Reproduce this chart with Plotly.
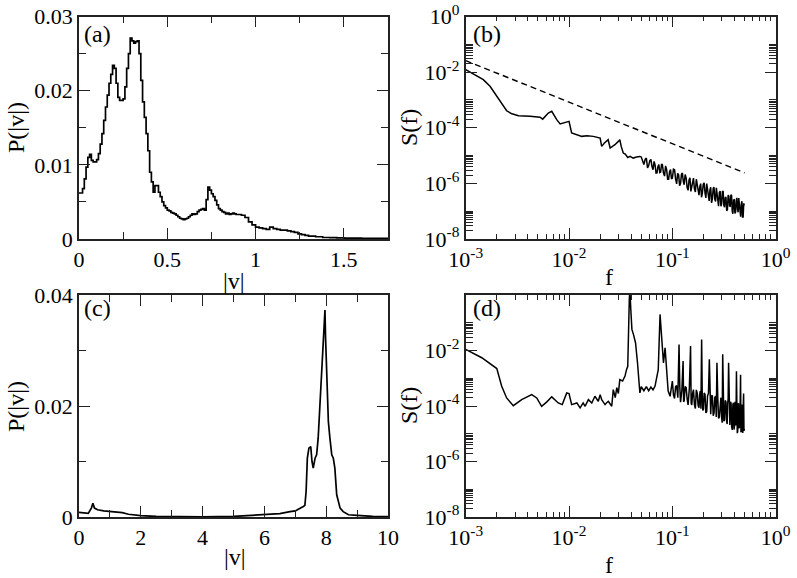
import numpy as np
import plotly.graph_objects as go

# ---------------- data ----------------
# (a) speed distribution, low-amplitude case
v_a = [0.00, 0.01, 0.02, 0.03, 0.04, 0.05, 0.06, 0.07, 0.08, 0.09,
       0.10, 0.11, 0.12, 0.13, 0.14, 0.15, 0.16, 0.17, 0.18, 0.19,
       0.20, 0.21, 0.22, 0.23, 0.24, 0.25, 0.26, 0.27, 0.28, 0.29,
       0.30, 0.31, 0.32, 0.33, 0.34, 0.35, 0.36, 0.37, 0.38, 0.39,
       0.40, 0.41, 0.42, 0.43, 0.44, 0.45, 0.46, 0.47, 0.48, 0.49,
       0.50, 0.51, 0.52, 0.53, 0.54, 0.55, 0.56, 0.57, 0.58, 0.59,
       0.60, 0.61, 0.62, 0.63, 0.64, 0.65, 0.66, 0.67, 0.68, 0.69,
       0.70, 0.71, 0.72, 0.73, 0.74, 0.75, 0.76, 0.77, 0.78, 0.79,
       0.80, 0.81, 0.82, 0.83, 0.84, 0.85, 0.86, 0.87, 0.88, 0.89,
       0.90, 0.92, 0.94, 0.96, 0.98, 1.00, 1.02, 1.04, 1.06, 1.08,
       1.10, 1.12, 1.14, 1.16, 1.18, 1.20, 1.22, 1.24, 1.26, 1.28,
       1.30, 1.34, 1.38, 1.42, 1.46, 1.50, 1.55, 1.60, 1.65, 1.70, 1.75]
p_a = [0.0062, 0.0062, 0.0068, 0.0081, 0.0097, 0.0110, 0.0114, 0.0106, 0.0104, 0.0104,
       0.0107, 0.0115, 0.0128, 0.0142, 0.0160, 0.0178, 0.0194, 0.0210, 0.0222, 0.0234,
       0.0230, 0.0210, 0.0191, 0.0187, 0.0187, 0.0189, 0.0205, 0.0230, 0.0250, 0.0271,
       0.0267, 0.0264, 0.0266, 0.0267, 0.0250, 0.0214, 0.0185, 0.0164, 0.0142, 0.0119,
       0.0090, 0.0077, 0.0063, 0.0072, 0.0072, 0.0063, 0.0057, 0.0050, 0.0045, 0.0042,
       0.0039, 0.0038, 0.0036, 0.0035, 0.0034, 0.0032, 0.0030, 0.0028, 0.0027, 0.0026,
       0.0027, 0.0028, 0.0030, 0.0032, 0.0034, 0.0033, 0.0034, 0.0037, 0.0039, 0.0040,
       0.0041, 0.0039, 0.0053, 0.0070, 0.0066, 0.0061, 0.0057, 0.0052, 0.0046, 0.0041,
       0.0039, 0.0037, 0.0036, 0.0034, 0.0035, 0.0033, 0.0034, 0.0035, 0.0034, 0.0033,
       0.0033, 0.0032, 0.0029, 0.0023, 0.0019, 0.0016, 0.0015, 0.0014, 0.0013, 0.0016,
       0.0014, 0.0013, 0.0012, 0.0012, 0.0011, 0.0010, 0.0009, 0.0007, 0.0006, 0.0005,
       0.0004, 0.0003, 0.0002, 0.00018, 0.00015, 0.00013, 0.00011, 0.0001, 0.00009, 0.00008, 0.00007]

# (b) power spectrum (log10 of S)
f_b = [1.0e-3, 1.2e-3, 1.48e-3, 1.72e-3, 2.0e-3, 2.31e-3, 2.49e-3, 2.8e-3, 3.24e-3, 4.2e-3,
       5.24e-3, 5.56e-3, 6.3e-3, 6.8e-3, 7.6e-3, 8.2e-3, 9.1e-3, 1.0e-2, 1.06e-2, 1.19e-2,
       1.33e-2, 1.49e-2, 1.72e-2, 2.0e-2, 2.07e-2, 2.2e-2, 2.39e-2, 2.5e-2, 2.78e-2, 3.0e-2,
       3.1e-2, 3.2e-2, 3.35e-2, 3.5e-2, 3.7e-2, 3.9e-2, 4.17e-2, 4.5e-2, 4.85e-2,
       0.050, 0.053, 0.056, 0.059, 0.062, 0.065, 0.068, 0.071, 0.074, 0.077,
       0.080, 0.084, 0.088, 0.092, 0.096, 0.100, 0.105, 0.110, 0.115, 0.120,
       0.125, 0.130, 0.136, 0.142, 0.148, 0.154, 0.160, 0.167, 0.174, 0.181,
       0.188, 0.195, 0.203, 0.211, 0.219, 0.227, 0.235, 0.244, 0.253, 0.262,
       0.271, 0.280, 0.290, 0.300, 0.310, 0.320, 0.330, 0.341, 0.352, 0.363,
       0.374, 0.385, 0.397, 0.409, 0.421, 0.433, 0.445, 0.458, 0.471, 0.484, 0.497]
log_s_b = [-1.91, -2.08, -2.27, -2.51, -2.87, -3.23, -3.39, -3.50, -3.57, -3.59,
           -3.62, -3.69, -3.47, -3.41, -3.71, -3.86, -3.81, -3.77, -4.19, -4.25,
           -4.31, -4.29, -4.31, -4.37, -4.67, -4.55, -4.43, -4.73, -4.61, -4.49,
           -4.43, -4.67, -4.91, -4.95, -5.07, -5.03, -5.09, -5.05, -5.03,
           -5.05, -5.32, -5.09, -5.36, -5.14, -5.51, -5.34, -5.62, -5.32, -5.59,
           -5.32, -5.74, -5.51, -5.85, -5.50, -5.81, -5.51, -6.02, -5.70, -6.01,
           -5.63, -6.05, -5.81, -6.25, -5.80, -6.13, -5.81, -6.31, -6.05, -6.42,
           -6.01, -6.35, -5.98, -6.52, -6.19, -6.63, -6.14, -6.55, -6.14, -6.65,
           -6.37, -6.82, -6.28, -6.73, -6.28, -6.86, -6.49, -6.95, -6.46, -6.82,
           -6.44, -7.09, -6.59, -7.03, -6.52, -7.04, -6.74, -7.20, -6.64, -7.21, -6.79]
# extra samples in the noisy high-frequency band of (b)
f_b_extra = [0.0515, 0.0545, 0.0575, 0.0605, 0.0635, 0.0665, 0.0695, 0.0725, 0.0755, 0.0785,
             0.082, 0.086, 0.090, 0.094, 0.098, 0.1025, 0.1075, 0.1125, 0.1175, 0.1225,
             0.1275, 0.133, 0.139, 0.145, 0.151, 0.157, 0.1635, 0.1705, 0.1775, 0.1845,
             0.1915, 0.199, 0.207, 0.215, 0.223, 0.231, 0.2395, 0.2485, 0.2575, 0.2665,
             0.2755, 0.285, 0.295, 0.305, 0.315, 0.325, 0.3355, 0.3465, 0.3575, 0.3685,
             0.3795, 0.391, 0.403, 0.415, 0.427, 0.439, 0.4515, 0.4645, 0.4775, 0.4905]
log_s_b_extra = [-5.19, -5.14, -5.44, -5.18, -5.40, -5.21, -5.63, -5.40, -5.61, -5.32,
                 -5.62, -5.37, -5.85, -5.58, -5.84, -5.49, -5.85, -5.64, -6.08, -5.67,
                 -5.92, -5.68, -6.15, -5.88, -6.29, -5.88, -6.20, -5.85, -6.36, -6.11,
                 -6.50, -6.03, -6.34, -6.01, -6.50, -6.23, -6.70, -6.18, -6.57, -6.16,
                 -6.54, -6.33, -6.82, -6.30, -6.79, -6.51, -6.98, -6.42, -6.81, -6.41,
                 -7.00, -6.60, -7.08, -6.61, -6.93, -6.53, -7.11, -6.75, -7.21, -6.72]
# reference power law (dashed)
f_ref = [1.0e-3, 0.5]
s_ref = [2.6e-2, 2.4e-6]

# (c) speed distribution, high-amplitude case
v_c = [0.0, 0.2, 0.3, 0.4, 0.45, 0.5, 0.6, 0.8, 1.0, 1.2, 1.4, 1.6, 2.0, 2.5, 3.0, 4.0,
       5.0, 6.0, 6.5, 6.83, 7.0, 7.26, 7.31, 7.35, 7.39, 7.44, 7.50, 7.54, 7.58, 7.64,
       7.69, 7.74, 7.80, 7.85, 7.91, 7.94, 7.96, 7.98, 8.02, 8.07, 8.12, 8.18, 8.23,
       8.28, 8.34, 8.39, 8.45, 8.55, 8.72, 9.0, 9.5, 10.0]
p_c = [0.00084, 0.00075, 0.00066, 0.0016, 0.0025, 0.0016, 0.0013, 0.0011, 0.0010, 0.0010,
       0.0008, 0.0005, 0.00024, 0.0001, 0.00006, 0.00004, 0.0001, 0.00036, 0.0006, 0.00096,
       0.0011, 0.0019, 0.0021, 0.0046, 0.0106, 0.0124, 0.0127, 0.0100, 0.0088, 0.0106,
       0.0112, 0.0142, 0.0202, 0.0250, 0.0310, 0.0364, 0.0373, 0.0322, 0.0256, 0.0172,
       0.0142, 0.0112, 0.0106, 0.0088, 0.0040, 0.0031, 0.0016, 0.00096, 0.0004, 0.0003,
       0.0001, 0.00006]

# (d) power spectrum (log10 of S)
f_d = [1.0e-3, 1.43e-3, 2.0e-3, 2.23e-3, 2.49e-3, 2.89e-3, 3.48e-3, 4.35e-3, 4.87e-3, 5.43e-3,
       6.1e-3, 6.8e-3, 7.87e-3, 8.6e-3, 9.5e-3, 1.0e-2, 1.06e-2, 1.19e-2, 1.28e-2, 1.37e-2,
       1.43e-2, 1.54e-2, 1.66e-2, 1.78e-2, 1.92e-2, 2.0e-2, 2.07e-2, 2.23e-2, 2.3e-2, 2.4e-2,
       2.59e-2, 2.68e-2, 2.8e-2, 2.9e-2, 3.0e-2, 3.1e-2, 3.3e-2, 3.48e-2, 3.6e-2, 3.7e-2,
       3.83e-2, 3.88e-2, 3.96e-2, 4.06e-2, 4.2e-2, 4.4e-2, 4.6e-2, 4.7e-2, 4.85e-2, 5.0e-2,
       5.3e-2, 5.6e-2, 5.9e-2, 6.2e-2, 6.5e-2, 6.8e-2, 7.0e-2, 7.3e-2, 7.6e-2, 7.7e-2,
       7.9e-2, 8.2e-2, 8.5e-2, 8.8e-2, 9.1e-2, 9.5e-2, 9.8e-2,
       0.100, 0.105, 0.110, 0.116, 0.120, 0.127, 0.130, 0.136, 0.142, 0.150,
       0.154, 0.160, 0.167, 0.174, 0.181, 0.186, 0.192, 0.197, 0.203, 0.211,
       0.219, 0.228, 0.235, 0.244, 0.253, 0.262, 0.270, 0.280, 0.290, 0.300,
       0.307, 0.315, 0.325, 0.335, 0.343, 0.350, 0.360, 0.370, 0.380, 0.390,
       0.400, 0.408, 0.417, 0.425, 0.433, 0.441, 0.449, 0.457, 0.465, 0.473,
       0.481, 0.489, 0.497]
log_s_d = [-1.96, -2.26, -2.65, -3.29, -3.71, -3.99, -3.77, -3.59, -3.71, -4.01,
           -3.85, -3.67, -3.89, -3.95, -3.53, -3.55, -3.95, -3.89, -4.07, -3.89,
           -4.01, -3.77, -3.89, -3.65, -3.83, -3.59, -3.77, -3.95, -3.89, -3.83,
           -4.01, -3.41, -3.70, -3.34, -3.55, -3.05, -3.10, -2.92, -2.69, -2.57,
           -0.16, 0.20, -0.52, -1.24, -1.42, -1.72, -2.45, -2.87, -3.53, -3.30,
           -3.45, -3.30, -3.45, -3.32, -3.42, -3.28, -3.05, -2.69, -0.70, -1.00,
           -1.96, -2.45, -1.90, -2.81, -3.45, -3.65, -3.20,
           -3.10, -3.73, -3.26, -1.78, -3.86, -2.38, -3.81, -3.34, -3.96, -1.84,
           -3.96, -3.41, -4.09, -3.54, -4.06, -3.46, -1.60, -4.16, -3.53, -4.25,
           -3.63, -2.32, -4.30, -3.64, -4.26, -3.64, -2.44, -4.45, -3.75, -4.42,
           -2.14, -4.55, -3.80, -4.54, -3.90, -2.44, -4.68, -3.90, -4.86, -3.88,
           -4.69, -3.95, -2.75, -4.98, -3.94, -4.75, -4.01, -2.87, -4.88, -4.04,
           -4.97, -3.55, -4.82]
# extra samples in the noisy high-frequency band of (d)
f_d_extra = [0.1025, 0.1075, 0.113, 0.118, 0.1235, 0.1285, 0.133, 0.139, 0.146, 0.152,
             0.157, 0.1635, 0.1705, 0.1775, 0.1835, 0.189, 0.1945, 0.200, 0.207, 0.215,
             0.2235, 0.2315, 0.2395, 0.2485, 0.2575, 0.266, 0.275, 0.285, 0.295, 0.3035,
             0.311, 0.320, 0.330, 0.339, 0.3465, 0.355, 0.365, 0.375, 0.385, 0.395,
             0.404, 0.4125, 0.421, 0.429, 0.437, 0.445, 0.453, 0.461, 0.469, 0.477,
             0.485, 0.493]
log_s_d_extra = [-3.60, -3.30, -3.70, -3.30, -3.45, -3.85, -3.30, -3.75, -3.35, -3.90,
                 -3.55, -3.95, -3.42, -3.98, -3.60, -4.10, -3.55, -4.12, -3.58, -4.20,
                 -3.55, -4.10, -3.62, -4.35, -3.70, -4.40, -3.68, -4.40, -3.70, -4.60,
                 -3.80, -4.50, -3.85, -4.65, -3.75, -4.60, -3.85, -4.75, -3.95, -4.85,
                 -3.85, -4.70, -3.95, -4.90, -3.90, -4.80, -4.00, -4.95, -3.95, -4.85,
                 -4.05, -4.90]

# tick labels
lin_a_x = [0, 0.5, 1, 1.5]
lin_a_y = [0, 0.01, 0.02, 0.03]
lin_c_x = [0, 2, 4, 6, 8, 10]
lin_c_y = [0, 0.02, 0.04]
log_x_exp = [-3, -2, -1, 0]
log_y_exp = [-8, -6, -4, -2, 0]


def merged(f1, l1, f2, l2):
    pairs = sorted(zip(list(f1) + list(f2), list(l1) + list(l2)))
    return [p[0] for p in pairs], [10.0 ** p[1] for p in pairs]


fb_all, sb_all = merged(f_b, log_s_b, f_b_extra, log_s_b_extra)
fd_all, sd_all = merged(f_d, log_s_d, f_d_extra, log_s_d_extra)

# ---------------- figure ----------------
W, H = 797, 578
FONT = "Liberation Serif"


def px(x):
    return x / W


def py(y):
    return 1 - y / H


fig = go.Figure()
line = dict(color="black", width=1.7)

fig.add_trace(go.Scatter(x=v_a, y=p_a, mode="lines", line=dict(color="black", width=1.7, shape="hv"),
                         xaxis="x", yaxis="y", showlegend=False))
fig.add_trace(go.Scatter(x=fb_all, y=sb_all, mode="lines", line=dict(color="black", width=1.5),
                         xaxis="x2", yaxis="y2", showlegend=False))
fig.add_trace(go.Scatter(x=f_ref, y=s_ref, mode="lines",
                         line=dict(color="black", width=1.4, dash="6px,4px"),
                         xaxis="x2", yaxis="y2", showlegend=False))
fig.add_trace(go.Scatter(x=v_c, y=p_c, mode="lines", line=line,
                         xaxis="x3", yaxis="y3", showlegend=False))
fig.add_trace(go.Scatter(x=fd_all, y=sd_all, mode="lines", line=dict(color="black", width=1.5),
                         xaxis="x4", yaxis="y4", showlegend=False))

tickfont = dict(family=FONT, size=22, color="black")


def base_axis(**kw):
    d = dict(showline=True, linecolor="#222222", linewidth=1.8, mirror="ticks",
             ticks="inside", ticklen=11, tickwidth=1.4, tickcolor="#222222",
             showgrid=False, zeroline=False, tickfont=tickfont, automargin=False,
             fixedrange=True)
    d.update(kw)
    return d


def pw(e):
    return "10<sup>%d</sup>" % e


log_minor_x = [k * 10.0 ** e for e in (-3, -2, -1) for k in range(2, 10)]
log_minor_y = [k * 10.0 ** e for e in (-8, -6, -4, -2) for k in range(2, 11)]

dom_left = [px(79), px(388)]
dom_right = [px(465.7), px(775.7)]
dom_top = [py(239), py(16.5)]
dom_bot = [py(517), py(295)]

minor_lin = dict(ticks="inside", ticklen=7, tickwidth=1.3, tickcolor="#222222")

layout = dict(
    width=W, height=H, margin=dict(l=0, r=0, t=0, b=0),
    paper_bgcolor="white", plot_bgcolor="white",
    font=dict(family=FONT, color="black"),
    xaxis=base_axis(domain=dom_left, anchor="y", range=[0, 1.75],
                    tickmode="array", tickvals=lin_a_x, ticktext=[str(t) for t in lin_a_x],
                    minor=dict(dtick=0.25, tick0=0, **minor_lin)),
    yaxis=base_axis(domain=dom_top, anchor="x", range=[0, 0.03],
                    tickmode="array", tickvals=lin_a_y, ticktext=["0", "0.01", "0.02", "0.03"],
                    minor=dict(dtick=0.005, tick0=0, **minor_lin)),
    xaxis2=base_axis(domain=dom_right, anchor="y2", type="log", range=[-3, 0],
                     tickmode="array", tickvals=[10.0 ** e for e in log_x_exp],
                     ticktext=[pw(e) for e in log_x_exp],
                     minor=dict(tickmode="array", tickvals=log_minor_x, ticks="inside", ticklen=5,
                                tickwidth=1.2, tickcolor="#222222")),
    yaxis2=base_axis(domain=dom_top, anchor="x2", type="log", range=[-8, 0],
                     tickmode="array", tickvals=[10.0 ** e for e in log_y_exp],
                     ticktext=[pw(e) for e in log_y_exp],
                     minor=dict(tickmode="array", tickvals=log_minor_y, ticks="inside", ticklen=7,
                                tickwidth=1.0, tickcolor="#222222")),
    xaxis3=base_axis(domain=dom_left, anchor="y3", range=[0, 10],
                     tickmode="array", tickvals=lin_c_x, ticktext=[str(t) for t in lin_c_x],
                     minor=dict(dtick=1, tick0=0, **minor_lin)),
    yaxis3=base_axis(domain=dom_bot, anchor="x3", range=[0, 0.04],
                     tickmode="array", tickvals=lin_c_y, ticktext=["0", "0.02", "0.04"],
                     minor=dict(dtick=0.01, tick0=0, **minor_lin)),
    xaxis4=base_axis(domain=dom_right, anchor="y4", type="log", range=[-3, 0],
                     tickmode="array", tickvals=[10.0 ** e for e in log_x_exp],
                     ticktext=[pw(e) for e in log_x_exp],
                     minor=dict(tickmode="array", tickvals=log_minor_x, ticks="inside", ticklen=5,
                                tickwidth=1.2, tickcolor="#222222")),
    yaxis4=base_axis(domain=dom_bot, anchor="x4", type="log", range=[-8, 0],
                     tickmode="array", tickvals=[10.0 ** e for e in log_y_exp[:-1]],
                     ticktext=[pw(e) for e in log_y_exp[:-1]],
                     minor=dict(tickmode="array", tickvals=log_minor_y, ticks="inside", ticklen=7,
                                tickwidth=1.0, tickcolor="#222222")),
)
fig.update_layout(**layout)

tf = dict(family=FONT, size=24, color="black")
ann = []
# axis titles
for (x, y, text, ang) in [
    (16, 127, "P(|v|)", -90), (16, 406, "P(|v|)", -90),
    (409, 128, "S(f)", -90), (409, 406, "S(f)", -90),
    (234, 281, "|v|", 0), (235, 557, "|v|", 0),
    (609, 277, "f", 0), (609, 565, "f", 0),
]:
    ann.append(dict(x=px(x), y=py(y), xref="paper", yref="paper", text=text, textangle=ang,
                    showarrow=False, font=tf, xanchor="center", yanchor="middle"))
# panel letters
for (x, y, text) in [(82, 34, "(a)"), (471, 34, "(b)"), (82, 308, "(c)"), (471, 308, "(d)")]:
    ann.append(dict(x=px(x), y=py(y), xref="paper", yref="paper", text=text, showarrow=False,
                    font=tf, xanchor="left", yanchor="middle"))
fig.update_layout(annotations=ann)

fig.write_html("out.html", config={"displayModeBar": False},
               post_script="document.body.style.margin='0px';document.body.style.overflow='hidden';")
